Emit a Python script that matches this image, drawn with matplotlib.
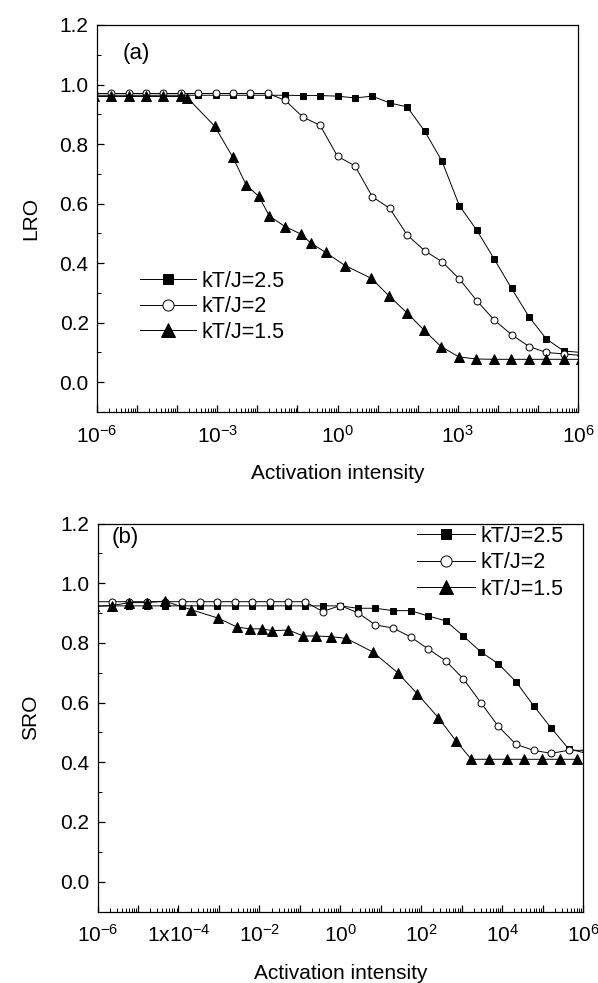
import numpy as np
import matplotlib
matplotlib.use("Agg")
import matplotlib.pyplot as plt
from matplotlib.ticker import MultipleLocator, LogLocator, NullFormatter

plt.rcParams['font.family'] = ['Liberation Sans', 'DejaVu Sans']
plt.rcParams['mathtext.fontset'] = 'custom'
plt.rcParams['mathtext.rm'] = 'Liberation Sans'
plt.rcParams['mathtext.it'] = 'Liberation Sans'

# x positions, as log10 of the activation intensity
grid = [-6.08, -5.646, -5.212, -4.777, -4.343, -3.909, -3.474, -3.040, -2.606,
        -2.171, -1.737, -1.303, -0.869, -0.434, 0.0, 0.434, 0.869, 1.303, 1.737,
        2.171, 2.606, 3.040, 3.474, 3.909, 4.343, 4.777, 5.212, 5.646, 6.08]

# (a) LRO
lro_25 = [0.964, 0.964, 0.964, 0.964, 0.964, 0.964, 0.964, 0.964, 0.964, 0.964,
          0.964, 0.964, 0.963, 0.963, 0.961, 0.955, 0.961, 0.938, 0.925, 0.844,
          0.743, 0.593, 0.511, 0.414, 0.315, 0.220, 0.145, 0.105, 0.10]
lro_20 = [0.970, 0.970, 0.970, 0.970, 0.970, 0.970, 0.970, 0.970, 0.970, 0.970,
          0.970, 0.947, 0.891, 0.863, 0.759, 0.727, 0.623, 0.584, 0.495, 0.442,
          0.405, 0.347, 0.274, 0.209, 0.160, 0.120, 0.100, 0.095, 0.090]
lx_15a = [-6.08, -5.646, -5.212, -4.777, -4.343, -3.909, -3.748, -3.065, -2.608,
          -2.276, -1.967, -1.697, -1.310, -0.918, -0.669, -0.294, 0.187, 0.844,
          1.285, 1.727, 2.16, 2.58, 3.03, 3.46, 3.90, 4.34, 4.78, 5.21, 5.65, 6.08]
lro_15 = [0.960, 0.960, 0.960, 0.960, 0.960, 0.960, 0.956, 0.860, 0.755,
          0.662, 0.625, 0.558, 0.523, 0.498, 0.468, 0.436, 0.392, 0.349,
          0.290, 0.234, 0.175, 0.120, 0.085, 0.078, 0.077, 0.077, 0.077, 0.077, 0.077, 0.077]

# (b) SRO
sro_25 = [0.924, 0.924, 0.924, 0.924, 0.924, 0.924, 0.924, 0.924, 0.924, 0.924,
          0.924, 0.924, 0.924, 0.924, 0.924, 0.916, 0.916, 0.908, 0.908, 0.890,
          0.874, 0.823, 0.770, 0.730, 0.670, 0.590, 0.515, 0.445, 0.43]
sro_20 = [0.938, 0.938, 0.938, 0.938, 0.938, 0.938, 0.938, 0.938, 0.938, 0.938,
          0.938, 0.938, 0.938, 0.905, 0.925, 0.901, 0.860, 0.850, 0.820, 0.780,
          0.740, 0.680, 0.600, 0.520, 0.460, 0.440, 0.430, 0.440, 0.440]
lx_15b = [-6.08, -5.646, -5.212, -4.777, -4.343, -3.68, -3.02, -2.55, -2.23,
          -1.94, -1.68, -1.28, -0.91, -0.60, -0.24, 0.15, 0.80, 1.42, 1.90,
          2.42, 2.87, 3.24, 3.68, 4.12, 4.55, 4.99, 5.42, 5.86]
sro_15 = [0.922, 0.925, 0.935, 0.935, 0.940, 0.911, 0.883, 0.853, 0.847,
          0.847, 0.841, 0.843, 0.823, 0.823, 0.821, 0.815, 0.770, 0.700,
          0.630, 0.550, 0.470, 0.410, 0.410, 0.410, 0.410, 0.410, 0.410, 0.410]

labels = ['kT/J=2.5', 'kT/J=2', 'kT/J=1.5']

W, H = 598, 983
fig = plt.figure(figsize=(W / 100, H / 100), dpi=100)
ax1 = fig.add_axes([97 / W, 1 - 412 / H, 481 / W, 387 / H])
ax2 = fig.add_axes([97.5 / W, 1 - 911.5 / H, 485.5 / W, 388 / H])


def draw(ax, series, xlabels, ylabel):
    for (lx, y), mk, fc, ms in zip(series, ['s', 'o', '^'],
                                   ['black', 'white', 'black'], [4.6, 5.0, 6.6]):
        ax.plot(10.0 ** np.array(lx), y, marker=mk, ms=ms, mfc=fc, mec='black',
                mew=0.7, color='black', lw=0.7)
    ax.set_xscale('log')
    ax.set_xlim(1e-6, 1e6)
    ax.set_ylim(-0.1, 1.2)
    ax.set_xticks(10.0 ** np.arange(-6, 7))
    ax.set_xticklabels(xlabels)
    ax.xaxis.set_minor_locator(LogLocator(base=10, subs=np.arange(2, 10), numticks=100))
    ax.xaxis.set_minor_formatter(NullFormatter())
    ax.set_yticks(np.arange(0, 1.21, 0.2))
    ax.set_yticklabels(['%.1f' % v for v in np.arange(0, 1.21, 0.2)])
    ax.yaxis.set_minor_locator(MultipleLocator(0.1))
    ax.tick_params(which='both', direction='in', top=False, right=False, labelsize=15)
    ax.tick_params(which='major', length=5, width=0.9)
    ax.tick_params(which='minor', length=3, width=0.7)
    ax.tick_params(axis='x', pad=9)
    ax.tick_params(axis='y', pad=6)
    for s in ax.spines.values():
        s.set_linewidth(0.9)
    ax.set_xlabel('Activation intensity', fontsize=15, labelpad=13)
    ax.set_ylabel(ylabel, fontsize=15, labelpad=14)


def lab(i):
    return r'$10^{%d}$' % i


xl_a = [lab(i) if i % 3 == 0 else '' for i in range(-6, 7)]
xl_b = []
for i in range(-6, 7):
    if i == -4:
        xl_b.append(r'$1\mathrm{x}10^{-4}$')
    elif i % 2 == 0:
        xl_b.append(lab(i))
    else:
        xl_b.append('')

draw(ax1, [(grid, lro_25), (grid, lro_20), (lx_15a, lro_15)], xl_a, 'LRO')
draw(ax2, [(grid, sro_25), (grid, sro_20), (lx_15b, sro_15)], xl_b, 'SRO')

fig.text(123 / W, 1 - 53 / H, '(a)', fontsize=16, va='center')
fig.text(112 / W, 1 - 538 / H, '(b)', fontsize=16, va='center')

fig.legend(ax1.lines, labels, loc='upper left', bbox_to_anchor=(140 / W, 1 - 271 / H),
           frameon=False, fontsize=15.5, handlelength=2.6, handletextpad=0.25,
           labelspacing=0.2, borderpad=0, borderaxespad=0, markerscale=1.6)
fig.legend(ax2.lines, labels, loc='upper left', bbox_to_anchor=(417 / W, 1 - 526 / H),
           frameon=False, fontsize=15.5, handlelength=2.7, handletextpad=0.25,
           labelspacing=0.25, borderpad=0, borderaxespad=0, markerscale=1.6)

fig.savefig('out.png', dpi=100)
